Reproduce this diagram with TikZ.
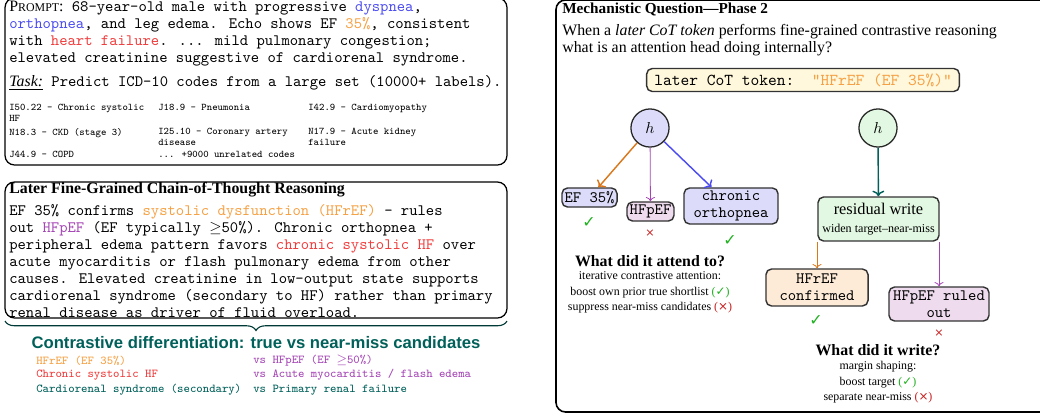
\documentclass[tikz,border=0pt]{standalone}
\usepackage{fontspec}
\setmainfont{Liberation Serif}
\setsansfont{Liberation Sans}
\newfontfamily\symfont{DejaVu Sans}
\usetikzlibrary{positioning,arrows.meta,decorations.pathreplacing}
\definecolor{camOrange}{HTML}{F5A043}
\definecolor{camOrangeDark}{HTML}{D9771A}
\definecolor{camBlue}{HTML}{4B4BF0}
\definecolor{camRed}{HTML}{F03C3C}
\definecolor{camRedX}{HTML}{C81E1E}
\definecolor{camPurple}{HTML}{A545B5}
\definecolor{camTeal}{HTML}{00605A}
\definecolor{camGreen}{HTML}{20B020}
\definecolor{fillBlue}{HTML}{DCDCFA}
\definecolor{fillPink}{HTML}{EEDCEE}
\definecolor{fillGreen}{HTML}{E2F8E2}
\definecolor{fillOrange}{HTML}{FDEBD8}
\definecolor{fillYellow}{HTML}{FFF8DC}
\newcommand{\okmark}{{\symfont ✓}}
\newcommand{\nomark}{{\symfont ×}}
\tikzset{
  panel/.style={draw=black, line width=0.8pt, rounded corners=6pt},
  textblock/.style={anchor=north west, align=left, inner sep=0pt, font=\ttfamily\fontsize{10}{10.7}\selectfont},
  codeentry/.style={anchor=north west, align=left, inner sep=0pt, font=\ttfamily\fontsize{6.4}{6.7}\selectfont},
  contrast/.style={anchor=west, inner sep=0pt, font=\ttfamily\fontsize{7.6}{9}\selectfont},
  tokbox/.style={draw=black!80, line width=0.9pt, rounded corners=3.5pt, align=center, inner sep=0pt, font=\ttfamily\fontsize{10}{10.7}\selectfont},
  head/.style={circle, draw=black!85, line width=0.8pt, minimum size=24pt, inner sep=0pt},
  tickok/.style={text=camGreen, inner sep=0pt, font=\symfont\fontsize{10}{10}\selectfont},
  tickno/.style={text=camRedX, inner sep=0pt, font=\symfont\fontsize{7}{7}\selectfont},
  qtitle/.style={inner sep=0pt, font=\bfseries\fontsize{10}{12}\selectfont},
  qnote/.style={align=center, inner sep=0pt, font=\fontsize{7.5}{9.8}\selectfont},
  thickarr/.style={->, line width=0.9pt},
  thinarr/.style={->, line width=0.5pt},
}
\begin{document}
\begin{tikzpicture}[x=0.63pt, y=-0.63pt]
 \useasboundingbox (0,0) rectangle (1040,414);
 % Khung đề bài
 \draw[panel] (5,-2) rectangle (507,165);
 \node[textblock] (prompt) at (9,1) {{\rmfamily P{\fontsize{7.5}{8}\selectfont ROMPT}:}\ 68-year-old male with progressive \textcolor{camBlue}{dyspnea},\\
  \textcolor{camBlue}{orthopnea}, and leg edema. Echo shows EF \textcolor{camOrange}{35\%}, consistent\\
  with \textcolor{camRed}{heart failure}. ... mild pulmonary congestion;\\
  elevated creatinine suggestive of cardiorenal syndrome.};
 \node[anchor=west, inner sep=0pt, font=\ttfamily\fontsize{10}{10.7}\selectfont] (task) at (9,83) {{\rmfamily\underline{\textit{Task:}}}\ Predict ICD-10 codes from a large set (10000+ labels).};
 % Bảng mã ICD
 \node[codeentry] (c11) at (9,104) {I50.22 - Chronic systolic\\HF};
 \node[codeentry] (c12) at (158,104) {J18.9 - Pneumonia};
 \node[codeentry] (c13) at (308,104) {I42.9 - Cardiomyopathy};
 \node[codeentry] (c21) at (9,128) {N18.3 - CKD (stage 3)};
 \node[codeentry] (c22) at (158,128) {I25.10 - Coronary artery\\disease};
 \node[codeentry] (c23) at (308,128) {N17.9 - Acute kidney\\failure};
 \node[codeentry] (c31) at (9,151) {J44.9 - COPD};
 \node[codeentry] (c32) at (158,151) {... +9000 unrelated codes};
 % Khung lập luận
 \draw[panel] (5,182) rectangle (507,318);
 \node[qtitle, anchor=west] (cottitle) at (9,190) {Later Fine-Grained Chain-of-Thought Reasoning};
 \node[textblock] (cot) at (9,204) {EF 35\% confirms \textcolor{camOrange}{systolic dysfunction (HFrEF)} - rules\\
  out \textcolor{camPurple}{HFpEF} (EF typically $\geq$50\%). Chronic orthopnea +\\
  peripheral edema pattern favors \textcolor{camRed}{chronic systolic HF} over\\
  acute myocarditis or flash pulmonary edema from other\\
  causes. Elevated creatinine in low-output state supports\\
  cardiorenal syndrome (secondary to HF) rather than primary\\
  renal disease as driver of fluid overload.};
 % Ngoặc và phân biệt
 \draw[camTeal!60!black, line width=0.7pt, decorate, decoration={brace, mirror, amplitude=6pt}] (5,321) -- (507,321);
 \node[inner sep=0pt, text=camTeal, font=\sffamily\bfseries\fontsize{10.5}{12}\selectfont] (contrtitle) at (256,343) {Contrastive differentiation: true vs near-miss candidates};
 \node[contrast, text=camOrange] (r1a) at (36,361) {HFrEF (EF 35\%)};
 \node[contrast, text=camPurple] (r1b) at (253,361) {vs HFpEF (EF $\geq$50\%)};
 \node[contrast, text=camRed] (r2a) at (36,375) {Chronic systolic HF};
 \node[contrast, text=camPurple] (r2b) at (253,375) {vs Acute myocarditis / flash edema};
 \node[contrast, text=camTeal] (r3a) at (36,390) {Cardiorenal syndrome (secondary)};
 \node[contrast, text=camTeal] (r3b) at (253,390) {vs Primary renal failure};
 % Khung câu hỏi cơ chế
 \draw[panel, line width=1pt] (556,0) rectangle (1100,412);
 \node[qtitle, anchor=west, font=\bfseries\fontsize{9.6}{12}\selectfont] (mechtitle) at (562,9) {Mechanistic Question---Phase 2};
 \node[anchor=north west, align=left, inner sep=0pt, font=\fontsize{10}{10.7}\selectfont] (question) at (562,24) {When a \textit{later CoT token} performs fine-grained contrastive reasoning\\what is an attention head doing internally?};
 \node[tokbox, fill=fillYellow, minimum width=197pt, minimum height=14.5pt, font=\ttfamily\fontsize{10.5}{11}\selectfont] (token) at (803,80) {later CoT token:\ \ \textcolor{camOrange}{"HFrEF (EF 35\%)"}};
 % Đầu chú ý: đọc
 \node[head, fill=fillBlue] (h1) at (650,128) {$h$};
 \node[tokbox, fill=fillBlue, minimum width=34.7pt, minimum height=12pt] (ef) at (589.5,197.5) {EF 35\%};
 \node[tokbox, fill=fillPink, minimum width=29.6pt, minimum height=12pt] (hfp) at (650.5,211.5) {HFpEF};
 \node[tokbox, fill=fillBlue, minimum width=59.2pt, minimum height=22.7pt] (orth) at (731,206) {chronic\\orthopnea};
 \draw[thickarr, camOrangeDark] (h1) -- (ef);
 \draw[thinarr, camPurple] (h1) -- (hfp);
 \draw[thickarr, camBlue] (h1) -- (orth);
 \node[tickok] (ok1) at (589,222) {✓};
 \node[tickno] (no1) at (650,233) {×};
 \node[tickok] (ok2) at (730,240) {✓};
 \node[qtitle] (attend) at (650,261) {What did it attend to?};
 \node[qnote] (attendnote) at (650,292.5) {iterative contrastive attention:\\boost own prior true shortlist \textcolor{camGreen}{(\okmark)}\\suppress near-miss candidates \textcolor{camRedX}{(\nomark)}};
 % Đầu chú ý: ghi
 \node[head, fill=fillGreen] (h2) at (878,128) {$h$};
 \node[tokbox, fill=fillGreen, font=\fontsize{10.3}{11}\selectfont, minimum width=76.2pt, minimum height=27.7pt] (res) at (878.5,219) {residual write\\{\fontsize{7.6}{9}\selectfont widen target--near-miss}};
 \node[tokbox, fill=fillOrange, minimum width=64.3pt, minimum height=23.3pt] (hfr) at (817,287.5) {HFrEF\\confirmed};
 \node[tokbox, fill=fillPink, minimum width=63pt, minimum height=21.4pt] (hfpr) at (939,304) {HFpEF ruled\\out};
 \draw[thickarr, camTeal] (h2) -- (res);
 \draw[thinarr, camOrangeDark] (res.south -| hfr.north) -- (hfr.north);
 \draw[thinarr, camPurple] (res.south -| hfpr.north) -- (hfpr.north);
 \node[tickok] (ok3) at (816,320) {✓};
 \node[tickno] (no2) at (939,333) {×};
 \node[qtitle] (write) at (878,350) {What did it write?};
 \node[qnote] (writenote) at (878,382.5) {margin shaping:\\boost target \textcolor{camGreen}{(\okmark)}\\separate near-miss \textcolor{camRedX}{(\nomark)}};
\end{tikzpicture}
\end{document}
